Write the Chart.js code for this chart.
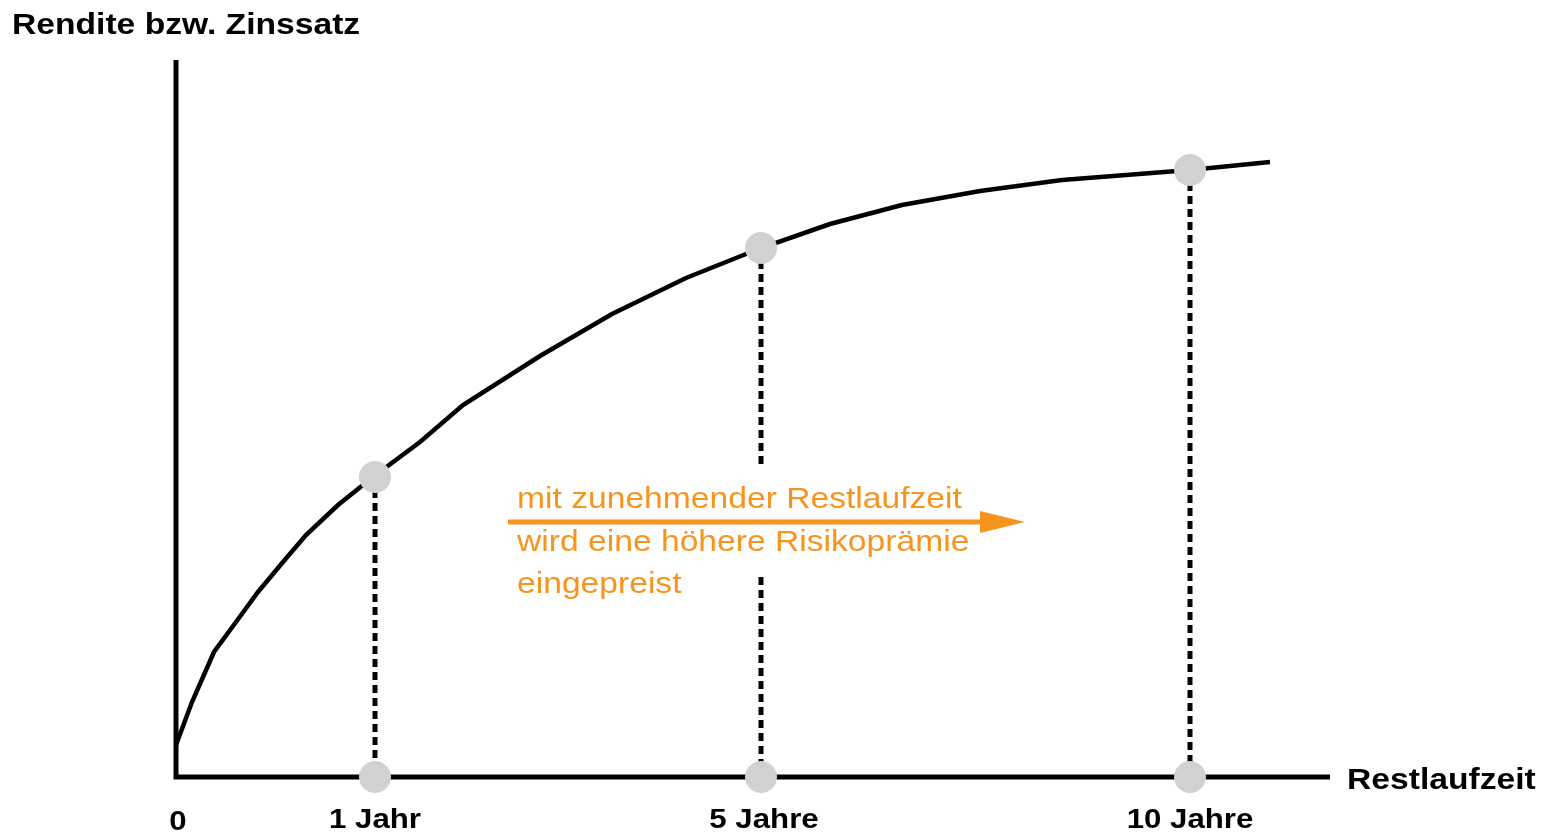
<!DOCTYPE html>
<html><head><meta charset="utf-8">
<script src="https://cdn.jsdelivr.net/npm/chart.js@4"></script>
<style>html,body{margin:0;padding:0;background:#fff;}#wrap{width:1552px;height:832px;}</style>
</head><body><div id="wrap"><canvas id="c" width="1552" height="832"></canvas></div>
<script>
// Data (arbitrary units: x = Restlaufzeit position, y = Rendite)
const curveX = [0, 1.6, 3.8, 6.0, 8.2, 10.7, 13.0, 16.2, 19.7, 24.4, 28.7, 36.4, 43.6, 51.0, 58.5, 65.4, 72.6, 80.4, 88.6, 101.4, 109.4];
const curveY = [3.2, 7.5, 12.5, 15.5, 18.5, 21.5, 24.2, 27.2, 30.0, 33.5, 37.2, 42.1, 46.3, 49.9, 52.9, 55.3, 57.2, 58.6, 59.7, 60.7, 61.5];
const markerX = [19.9, 58.5, 101.4];
const markerY = [30.0, 52.9, 60.7];
const tickValues = [0, 19.9, 58.5, 101.4];
const tickLabels = ['0', '1 Jahr', '5 Jahre', '10 Jahre'];
const gapTop = 30.9, gapBottom = 20.0;   // break in the 5-Jahre dashed line
const xMax = 115.4, yMax = 71.7;
const yTitle = 'Rendite bzw. Zinssatz';
const xTitle = 'Restlaufzeit';
const noteLines = ['mit zunehmender Restlaufzeit', 'wird eine höhere Risikoprämie', 'eingepreist'];
const arrowFrom = [33.2, 25.5], arrowTo = [84.9, 25.5];
const noteX = 34.1, noteY = [26.9, 22.6, 18.4];

const ORANGE = '#F7941D';
const STRETCH = 1.14;

const curve = curveX.map((x, i) => ({x, y: curveY[i]}));
const circles = [];
markerX.forEach((x, i) => { circles.push({x, y: markerY[i]}); circles.push({x, y: 0}); });
const dashes = [];
markerX.forEach((x, i) => {
  if (i === 1) {
    dashes.push({x, y: markerY[i]}, {x, y: gapTop}, {x: null, y: null}, {x, y: gapBottom}, {x, y: 0}, {x: null, y: null});
  } else {
    dashes.push({x, y: markerY[i]}, {x, y: 0}, {x: null, y: null});
  }
});

function stretchedText(ctx, txt, x, y, align) {
  ctx.save();
  ctx.translate(x, y);
  ctx.scale(STRETCH, 1);
  ctx.textAlign = align;
  ctx.fillText(txt, 0, 0);
  ctx.restore();
}

const overlay = {
  id: 'overlay',
  afterDraw(chart) {
    const ctx = chart.ctx, xs = chart.scales.x, ys = chart.scales.y, ca = chart.chartArea;
    ctx.save();
    ctx.fillStyle = '#000';
    ctx.textBaseline = 'alphabetic';
    ctx.font = 'bold 29.5px "Liberation Sans", Arial, sans-serif';
    stretchedText(ctx, yTitle, 12, ca.top - 26, 'left');
    stretchedText(ctx, xTitle, ca.right + 17, ys.getPixelForValue(0) + 12, 'left');
    ctx.font = 'bold 27.4px "Liberation Sans", Arial, sans-serif';
    tickValues.forEach((v, i) => {
      const px = xs.getPixelForValue(v) + (i === 0 ? 2 : (i === 2 ? 3 : 0));
      stretchedText(ctx, tickLabels[i], px, ys.getPixelForValue(0) + (i === 0 ? 53 : 51), 'center');
    });
    // note
    ctx.fillStyle = ORANGE;
    ctx.font = '29.5px "Liberation Sans", Arial, sans-serif';
    noteLines.forEach((t, i) => stretchedText(ctx, t, xs.getPixelForValue(noteX), ys.getPixelForValue(noteY[i]), 'left'));
    // arrow
    const x0 = xs.getPixelForValue(arrowFrom[0]), y0 = ys.getPixelForValue(arrowFrom[1]);
    const x1 = xs.getPixelForValue(arrowTo[0]), y1 = ys.getPixelForValue(arrowTo[1]);
    ctx.strokeStyle = ORANGE; ctx.lineWidth = 5;
    ctx.beginPath(); ctx.moveTo(x0, y0); ctx.lineTo(x1 - 40, y1); ctx.stroke();
    ctx.beginPath(); ctx.moveTo(x1, y1); ctx.lineTo(x1 - 45, y1 - 11); ctx.lineTo(x1 - 45, y1 + 11); ctx.closePath(); ctx.fill();
    ctx.restore();
  }
};

new Chart(document.getElementById('c'), {
  type: 'scatter',
  data: {
    datasets: [
      { data: circles, pointRadius: 16, pointHoverRadius: 16, pointBackgroundColor: '#D1D1D1', pointBorderWidth: 0, showLine: false, clip: false },
      { data: curve, showLine: true, borderColor: '#000', borderWidth: 4.5, tension: 0, pointRadius: 0, clip: false },
      { data: dashes, showLine: true, spanGaps: false, borderColor: '#000', borderWidth: 5, borderDash: [8, 5], pointRadius: 0, clip: false },
      { data: [{x: 0, y: yMax}, {x: 0, y: 0}, {x: xMax, y: 0}], showLine: true, borderColor: '#000', borderWidth: 5, pointRadius: 0, clip: false, borderJoinStyle: 'miter' }
    ]
  },
  options: {
    responsive: false, animation: false, devicePixelRatio: 1,
    layout: { padding: { left: 176, right: 222, top: 60, bottom: 55 } },
    plugins: { legend: { display: false }, tooltip: { enabled: false } },
    events: [],
    scales: {
      x: { type: 'linear', min: 0, max: xMax, display: false },
      y: { type: 'linear', min: 0, max: yMax, display: false }
    }
  },
  plugins: [overlay]
});
</script></body></html>
